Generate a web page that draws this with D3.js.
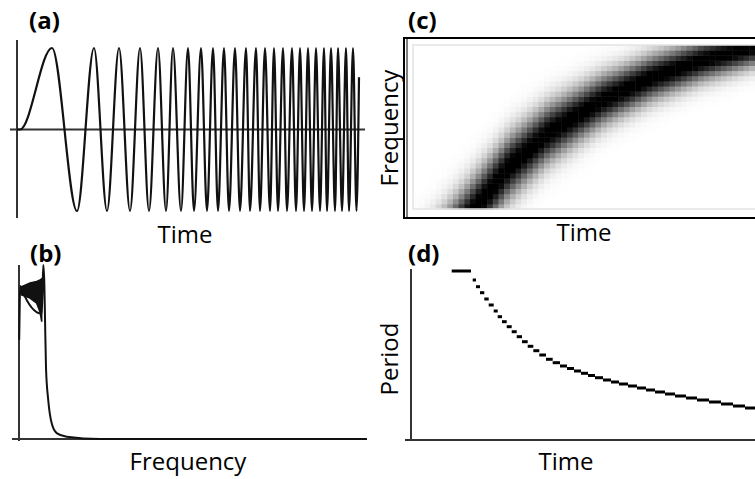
<!DOCTYPE html>
<html>
<head>
<meta charset="utf-8">
<script src="https://cdn.jsdelivr.net/npm/d3@7"></script>
<style>
  body { margin: 0; background: #fff; }
  svg { display: block; }
  text { font-family: "Open Sans", "DejaVu Sans", sans-serif; fill: #000; }
</style>
</head>
<body>
<svg></svg>
<script>
// ---- data ----
// (a) chirp: times of peaks / troughs (time units on the (a) axis)
const chirpStart = [0, 3];
const chirpPeaks = [35, 77, 102, 123, 141, 156, 171, 184, 196, 207, 218, 229, 239, 248, 257, 266, 275, 283, 291, 299, 307, 314, 321, 329, 336];
const chirpTroughs = [60, 90, 113, 132, 149, 164, 177, 190, 201, 212, 223, 233, 243, 253, 261, 270, 279, 287, 295, 303, 310, 318, 325, 332, 339.5];
const chirpEnd = [342, 0.64];

// (b) spectrum: line points and the dense oscillating band
const specF = [0.2, 0.8, 1.5, 2.7, 22.7, 23.5, 24.3, 25.3, 26, 27, 29.3, 32.7, 37.7, 47.7, 81, 348];
const specA = [0.57, 0.8, 0.88, 0.86, 0.72, 0.85, 1.0, 0.9, 0.7, 0.41, 0.22, 0.09, 0.034, 0.013, 0, 0];
const bandF = [2.7, 11, 17.7, 21, 22.7];
const bandHi = [0.875, 0.897, 0.905, 0.914, 0.92];
const bandLo = [0.828, 0.81, 0.78, 0.73, 0.674];

// (c) spectrogram ridge (time 0..1, frequency 0..1) and band spread
const ridgeT = [-0.1, 0, 0.1, 0.18, 0.28, 0.395, 0.553, 0.7, 0.845, 0.962, 1.0];
const ridgeF = [-0.7, -0.45, -0.2, 0, 0.256, 0.463, 0.665, 0.805, 0.909, 0.97, 0.99];
const spreadT = [0, 0.3, 0.6, 1];
const spreadS = [0.21, 0.18, 0.14, 0.11];

// (d) period staircase: step start times and period values
const periodT = [40.7, 61.7, 65, 69, 73.3, 77.7, 82.7, 86.7, 91, 95.7, 100.7, 105.7, 111, 116.7, 122.3, 128.3, 135, 141.7, 149, 156, 163, 170, 177, 184, 192, 200, 208, 217, 226, 235, 244, 254, 264, 275, 286, 298, 310, 322, 334];
const periodV = [169, 160, 153.3, 147.3, 141, 135, 129, 123.3, 118.3, 113.3, 108.3, 103.3, 98.3, 93.7, 89.3, 85, 80.7, 77.3, 74, 71.5, 69, 66.7, 64.5, 62.3, 60, 58, 56, 54, 52, 50, 48, 46, 44, 42, 40, 38, 36, 34, 32];
const periodEnd = 350;

const labels = ["(a)", "(b)", "(c)", "(d)"];

const svg = d3.select("svg").attr("width", 755).attr("height", 479);
const axisColor = "#333";

function axisLine(x1, y1, x2, y2) {
  svg.append("line")
    .attr("x1", x1).attr("y1", y1).attr("x2", x2).attr("y2", y2)
    .attr("stroke", axisColor).attr("stroke-width", 2);
}

// ---------- (a) ----------
const xA = d3.scaleLinear().domain([0, 348]).range([17, 365]);
const yA = d3.scaleLinear().domain([-1, 1]).range([211, 48]);

axisLine(xA(0), 40, xA(0), 218);
axisLine(xA(-7), yA(0), xA(348), yA(0));

const extrema = chirpPeaks.map((t) => [t, 1]).concat(chirpTroughs.map((t) => [t, -1]));
const chirp = chirpStart.map((t) => [t, 0])
  .concat(extrema.sort((a, b) => a[0] - b[0]))
  .concat([chirpEnd]);

svg.append("path")
  .datum(chirp)
  .attr("fill", "none")
  .attr("stroke", "#111")
  .attr("stroke-width", 2.2)
  .attr("d", d3.line().x((d) => xA(d[0])).y((d) => yA(d[1])).curve(d3.curveMonotoneX));

svg.append("text").attr("x", 185).attr("y", 243).attr("text-anchor", "middle")
  .attr("font-size", 24).text("Time");

// ---------- (b) ----------
const xB = d3.scaleLinear().domain([0, 348]).range([19, 367]);
const yB = d3.scaleLinear().domain([0, 1]).range([439, 265]);

axisLine(xB(0), 265, xB(0), 441);
axisLine(xB(-7), yB(0), xB(348), yB(0));

const band = bandF.map((f, i) => ({ f, hi: bandHi[i], lo: bandLo[i] }));
svg.append("path")
  .datum(band)
  .attr("fill", "#111")
  .attr("stroke", "#111")
  .attr("stroke-width", 1.5)
  .attr("d", d3.area().x((d) => xB(d.f)).y0((d) => yB(d.lo)).y1((d) => yB(d.hi)));

svg.append("path")
  .datum(specF.map((f, i) => [f, specA[i]]))
  .attr("fill", "none")
  .attr("stroke", "#111")
  .attr("stroke-width", 2)
  .attr("d", d3.line().x((d) => xB(d[0])).y((d) => yB(d[1])).curve(d3.curveMonotoneX));

svg.append("text").attr("x", 188).attr("y", 470).attr("text-anchor", "middle")
  .attr("font-size", 24).text("Frequency");

// ---------- (c) ----------
const xC = d3.scaleLinear().domain([0, 1]).range([413, 755]);
const yC = d3.scaleLinear().domain([0, 1]).range([209, 45]);
const ridge = d3.scaleLinear().domain(ridgeT).range(ridgeF).clamp(true);
const spread = d3.scaleLinear().domain(spreadT).range(spreadS);
const grey = d3.scaleLinear().domain([0, 0.95]).range(["#ffffff", "#000000"]).clamp(true);

svg.append("rect")
  .attr("x", 404).attr("y", 38).attr("width", 360).attr("height", 180)
  .attr("fill", "#fff").attr("stroke", "#000").attr("stroke-width", 2);
svg.append("line")
  .attr("x1", 407).attr("y1", 38).attr("x2", 407).attr("y2", 218)
  .attr("stroke", "#000").attr("stroke-width", 1);

const nT = 60, nF = 32;
const cells = [];
for (let i = 0; i < nT; i++) {
  for (let j = 0; j < nF; j++) {
    const t = (i + 0.5) / nT, f = (j + 0.5) / nF;
    const d = (f - ridge(t)) / spread(t);
    cells.push({ i, j, v: Math.exp(-d * d) });
  }
}
svg.append("g").selectAll("rect")
  .data(cells)
  .join("rect")
  .attr("x", (d) => xC(d.i / nT))
  .attr("y", (d) => yC((d.j + 1) / nF))
  .attr("width", xC(1 / nT) - xC(0) + 0.5)
  .attr("height", yC(0) - yC(1 / nF) + 0.5)
  .attr("fill", (d) => grey(d.v));

svg.append("rect")
  .attr("x", xC(0)).attr("y", yC(1)).attr("width", xC(1) - xC(0) + 5).attr("height", yC(0) - yC(1))
  .attr("fill", "none").attr("stroke", "#e4e4e4").attr("stroke-width", 1.5);

svg.append("text").attr("x", 584).attr("y", 241).attr("text-anchor", "middle")
  .attr("font-size", 24).text("Time");
svg.append("text").attr("transform", "translate(398,128) rotate(-90)")
  .attr("text-anchor", "middle").attr("font-size", 24).text("Frequency");

// ---------- (d) ----------
const xD = d3.scaleLinear().domain([0, 344]).range([411, 755]);
const yD = d3.scaleLinear().domain([0, 171]).range([440, 269]);

axisLine(xD(0), 269, xD(0), 441);
axisLine(xD(-6), yD(0), xD(344), yD(0));

const steps = periodT.map((t, i) => ({
  t0: t,
  t1: i === 0 ? 60 : (i < periodT.length - 1 ? periodT[i + 1] : periodEnd),
  v: periodV[i]
}));
svg.append("g").selectAll("line")
  .data(steps)
  .join("line")
  .attr("x1", (d) => xD(d.t0))
  .attr("x2", (d) => xD(d.t1))
  .attr("y1", (d) => yD(d.v))
  .attr("y2", (d) => yD(d.v))
  .attr("stroke", "#000")
  .attr("stroke-width", 3);

svg.append("text").attr("x", 566).attr("y", 470).attr("text-anchor", "middle")
  .attr("font-size", 24).text("Time");
svg.append("text").attr("transform", "translate(398,359) rotate(-90)")
  .attr("text-anchor", "middle").attr("font-size", 24).text("Period");

// ---------- panel letters ----------
const letterPos = [[29, 29], [30, 262], [408, 29], [408, 262]];
svg.selectAll(".panel-label")
  .data(labels)
  .join("text")
  .attr("class", "panel-label")
  .attr("x", (d, i) => letterPos[i][0])
  .attr("y", (d, i) => letterPos[i][1])
  .attr("font-size", 24)
  .attr("font-weight", "bold")
  .text((d) => d);
</script>
</body>
</html>
